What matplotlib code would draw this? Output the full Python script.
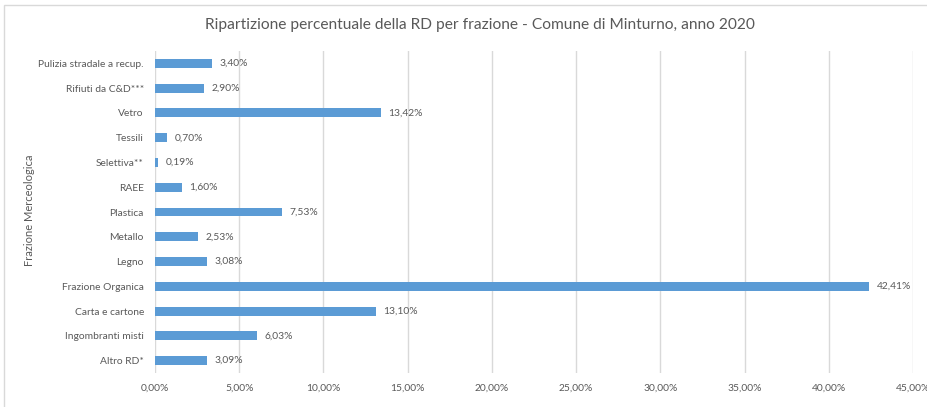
import matplotlib.pyplot as plt
from matplotlib.patches import Rectangle
from matplotlib.ticker import FuncFormatter

categories = ['Altro RD*', 'Ingombranti misti', 'Carta e cartone', 'Frazione Organica',
              'Legno', 'Metallo', 'Plastica', 'RAEE', 'Selettiva**', 'Tessili',
              'Vetro', 'Rifiuti da C&D***', 'Pulizia stradale a recup.']
values = [3.09, 6.03, 13.10, 42.41, 3.08, 2.53, 7.53, 1.60, 0.19, 0.70, 13.42, 2.90, 3.40]
x_ticks = [0, 5, 10, 15, 20, 25, 30, 35, 40, 45]

plt.rcParams['font.family'] = ['Lato', 'DejaVu Sans']
gray = '#595959'

fig = plt.figure(figsize=(9.27, 4.07), dpi=100)
ax = fig.add_axes([155 / 927, 1 - 373 / 407, (913 - 155) / 927, (373 - 51) / 407])

# chart border (cropped on right and bottom)
fig.patches.append(Rectangle((4 / 927, -0.1), 2, 1.1 - 5 / 407, transform=fig.transFigure,
                             fill=False, edgecolor='#d9d9d9', linewidth=1))

ax.barh(range(len(categories)), values, height=0.36, color='#5B9BD5', zorder=3)
for i, v in enumerate(values):
    ax.text(v + 0.45, i, f'{v:.2f}%'.replace('.', ','), va='center', ha='left',
            fontsize=7.4, color=gray, zorder=4)

ax.set_xlim(0, 45)
ax.set_ylim(-0.5, 12.5)
ax.set_xticks(x_ticks)
ax.xaxis.set_major_formatter(FuncFormatter(lambda x, p: f'{x:.2f}%'.replace('.', ',')))
ax.set_yticks(range(len(categories)))
ax.set_yticklabels(categories)
ax.tick_params(axis='both', length=0, labelsize=7.4, colors=gray)
ax.tick_params(axis='x', pad=8)
ax.tick_params(axis='y', pad=8)
ax.grid(axis='x', color='#d9d9d9', linewidth=1, zorder=0)
for s in ax.spines.values():
    s.set_visible(False)

fig.text(30 / 927, 1 - 210 / 407, 'Frazione Merceologica', rotation=90, ha='center',
         va='center', fontsize=8, color=gray)
fig.text(480 / 927, 1 - 25 / 407, 'Ripartizione percentuale della RD per frazione - Comune di Minturno, anno 2020',
         ha='center', va='center', fontsize=11.2, color=gray)

fig.savefig('out.png', dpi=100)
